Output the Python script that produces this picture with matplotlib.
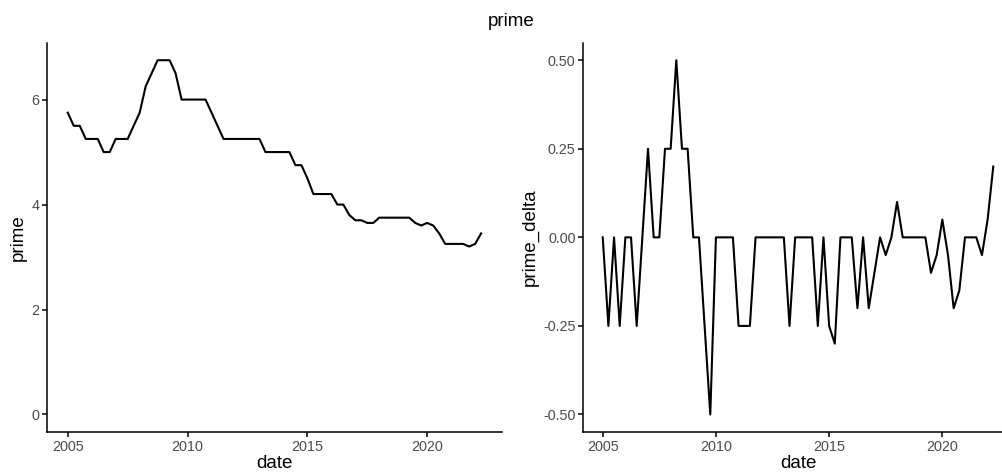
import pandas as pd
import matplotlib
matplotlib.use("Agg")
from matplotlib import pyplot as plt

plt.rcParams["font.family"] = ["Liberation Sans", "DejaVu Sans"]

# quarterly series, first quarter of 2005 onwards
start_date = "2005-01-01"
prime = [5.75, 5.5, 5.5, 5.25, 5.25, 5.25, 5.0, 5.0, 5.25, 5.25,
         5.25, 5.5, 5.75, 6.25, 6.5, 6.75, 6.75, 6.75, 6.5, 6.0,
         6.0, 6.0, 6.0, 6.0, 5.75, 5.5, 5.25, 5.25, 5.25, 5.25,
         5.25, 5.25, 5.25, 5.0, 5.0, 5.0, 5.0, 5.0, 4.75, 4.75,
         4.5, 4.2, 4.2, 4.2, 4.2, 4.0, 4.0, 3.8, 3.7, 3.7,
         3.65, 3.65, 3.75, 3.75, 3.75, 3.75, 3.75, 3.75, 3.65, 3.6,
         3.65, 3.6, 3.45, 3.25, 3.25, 3.25, 3.25, 3.2, 3.25, 3.45]
prime_delta = [0, -0.25, 0, -0.25, 0, 0, -0.25, 0, 0.25, 0,
               0, 0.25, 0.25, 0.5, 0.25, 0.25, 0, 0, -0.25, -0.5,
               0, 0, 0, 0, -0.25, -0.25, -0.25, 0, 0, 0,
               0, 0, 0, -0.25, 0, 0, 0, 0, -0.25, 0,
               -0.25, -0.3, 0, 0, 0, -0.2, 0, -0.2, -0.1, 0,
               -0.05, 0, 0.1, 0, 0, 0, 0, 0, -0.1, -0.05,
               0.05, -0.05, -0.2, -0.15, 0, 0, 0, -0.05, 0.05, 0.2]

dates = pd.date_range(start_date, periods=len(prime), freq="QS")
df = pd.DataFrame({"date": dates.year + (dates.month - 1) / 12,
                   "prime": prime, "prime_delta": prime_delta})

W, H = 1003, 476
fig = plt.figure(figsize=(W / 100, H / 100), dpi=100)


def px_axes(x0, x1, top, bottom):
    return fig.add_axes([x0 / W, 1 - bottom / H, (x1 - x0) / W, (bottom - top) / H])


def style(ax, col, ylim, yticks, ylabels):
    ax.plot(df["date"], df[col], color="black", lw=1.5)
    lo, hi = df["date"].min(), df["date"].max()
    pad = (hi - lo) * 0.05
    ax.set_xlim(lo - pad, hi + pad)
    ax.set_ylim(*ylim)
    ax.set_xticks([2005, 2010, 2015, 2020])
    ax.set_yticks(yticks)
    ax.set_yticklabels(ylabels)
    for s in ["top", "right"]:
        ax.spines[s].set_visible(False)
    for s in ["left", "bottom"]:
        ax.spines[s].set_linewidth(1.1)
    ax.tick_params(length=3.5, width=1.1, labelsize=10.4, labelcolor="#4D4D4D", pad=2)
    ax.set_xlabel("date", fontsize=13.5, labelpad=1)
    ax.set_ylabel(col, fontsize=13.5, labelpad=3)


ax1 = px_axes(47.1, 501.8, 42.5, 432.2)
style(ax1, "prime", (-0.3375, 7.0875), [0, 2, 4, 6], ["0", "2", "4", "6"])

ax2 = px_axes(583.2, 1012.8, 42.5, 432.2)
style(ax2, "prime_delta", (-0.55, 0.55), [-0.5, -0.25, 0, 0.25, 0.5],
      ["-0.50", "-0.25", "0.00", "0.25", "0.50"])

fig.text(510.8 / W, 1 - 21.7 / H, "prime", ha="center", va="center", fontsize=13.5)

fig.savefig("out.png", dpi=100)
